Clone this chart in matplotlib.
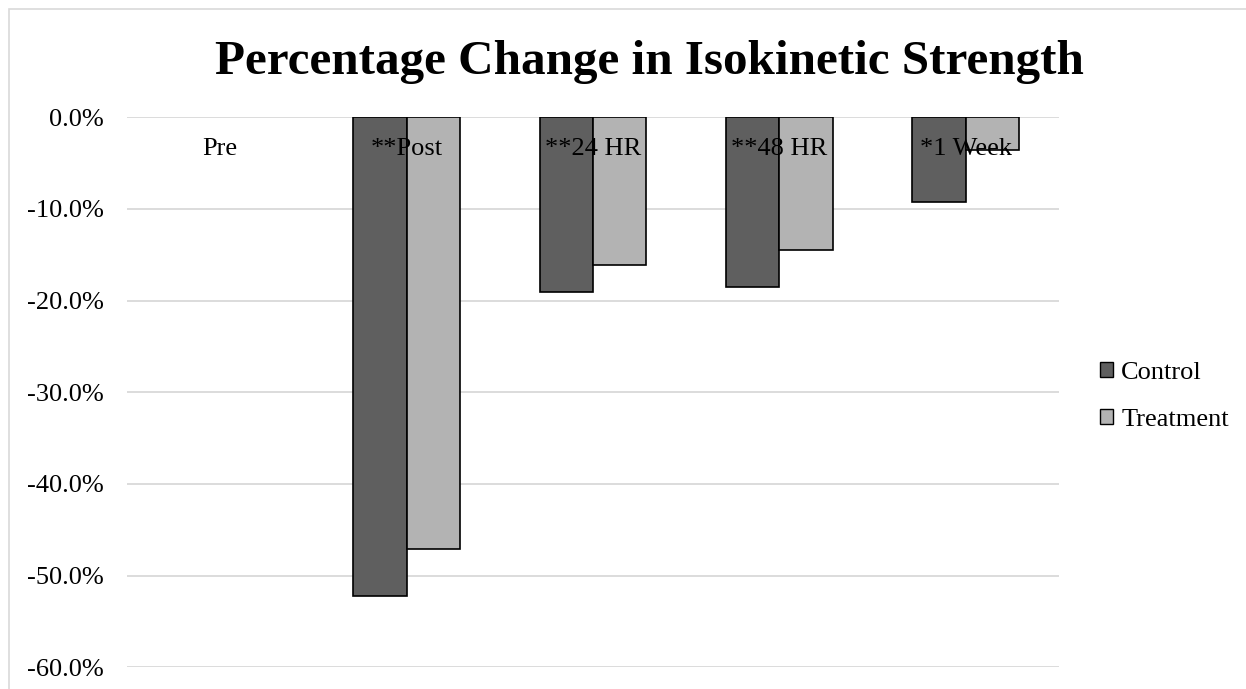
import matplotlib
matplotlib.use("Agg")
import matplotlib.pyplot as plt
from matplotlib.patches import Patch, Rectangle
import numpy as np

plt.rcParams['font.family'] = ['Liberation Serif', 'DejaVu Serif']

# data (percent change)
categories = ['Pre', '**Post', '**24 HR', '**48 HR', '*1 Week']
control = [0.0, -52.2, -19.1, -18.5, -9.2]
treatment = [0.0, -47.1, -16.1, -14.5, -3.6]
yticks = [0, -10, -20, -30, -40, -50, -60]

W, H = 1246, 689
fig = plt.figure(figsize=(W / 100, H / 100), dpi=100)
ax = fig.add_axes([127 / W, (H - 667.3) / H, (1059 - 127) / W, (667.3 - 117.3) / H])

# outer chart border (light gray, runs off right/bottom edge)
fig.patches.append(Rectangle((9 / W, -0.05), 1.1, 1 - 9 / H + 0.05, transform=fig.transFigure,
                             fill=False, edgecolor='#d9d9d9', lw=1.2, zorder=0))

x = np.arange(len(categories))
bw = 0.287
# zero-height bars get no outline (otherwise a black stroke shows at Pre)
lw_c = [0 if v == 0 else 1.2 for v in control]
lw_t = [0 if v == 0 else 1.2 for v in treatment]
ax.bar(x - bw / 2, control, bw, color='#5f5f5f', edgecolor='black', lw=lw_c, zorder=3)
ax.bar(x + bw / 2, treatment, bw, color='#b3b3b3', edgecolor='black', lw=lw_t, zorder=3)

ax.set_xlim(-0.5, len(categories) - 0.5)
ax.set_ylim(-60, 0)
ax.set_yticks(yticks)
ax.set_yticklabels(['%.1f%%' % v for v in yticks], fontsize=19)
ax.set_xticks([])
ax.tick_params(axis='y', length=0, pad=17)
for s in ax.spines.values():
    s.set_visible(False)
ax.grid(axis='y', color='#d9d9d9', lw=1.3, zorder=0)
ax.set_axisbelow(True)

# category labels sit just under the zero line
for i, c in enumerate(categories):
    ax.annotate(c, xy=(i, 0), xytext=(0, -22.8), textcoords='offset points',
                ha='center', va='center', fontsize=19, zorder=5)

fig.text(649 / W, 1 - 74 / H, 'Percentage Change in Isokinetic Strength',
         ha='center', va='baseline', fontsize=35.4, fontweight='bold')

handles = [Patch(facecolor='#5f5f5f', edgecolor='black', lw=1),
           Patch(facecolor='#b3b3b3', edgecolor='black', lw=1)]
fig.legend(handles, ['Control', 'Treatment'], loc='upper left',
           bbox_to_anchor=(1100 / W, 1 - 362 / H), frameon=False, fontsize=19,
           handlelength=0.5, handleheight=0.5, handletextpad=0.3,
           labelspacing=0.93, borderpad=0, borderaxespad=0)

fig.savefig('out.png', dpi=100)
